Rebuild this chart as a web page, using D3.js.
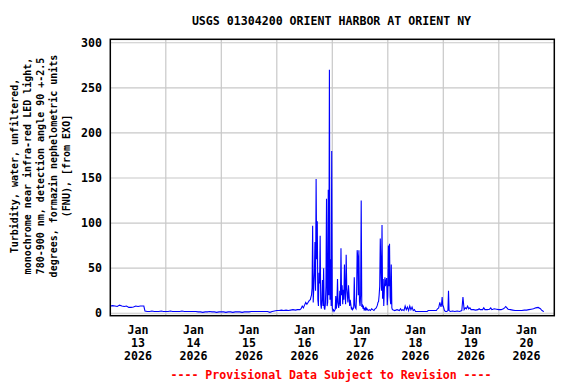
<!DOCTYPE html>
<html>
<head>
<meta charset="utf-8">
<script src="https://cdn.jsdelivr.net/npm/d3@7"></script>
<style>
  html, body { margin: 0; padding: 0; background: #fff; }
  svg { display: block; }
  text { font-family: 'DejaVu Sans Mono', monospace; font-weight: bold; fill: #000; }
</style>
</head>
<body>
<svg id="chart" width="576" height="384"></svg>
<script>
// ---- data (hour of day, turbidity FNU) ----
const titleText = "USGS 01304200 ORIENT HARBOR AT ORIENT NY";
const yLabelLines = [
  "Turbidity, water, unfiltered,",
  "monochrome near infra-red LED light,",
  "780-900 nm, detection angle 90 +-2.5",
  "degrees, formazin nephelometric units",
  "(FNU), [from EXO]"
];
const footerText = "---- Provisional Data Subject to Revision ----";
const yTicks = [0, 50, 100, 150, 200, 250, 300];
const tickDays = [13, 14, 15, 16, 17, 18, 19, 20];
const tickMonth = "Jan";
const tickYear = "2026";

const jan13 = [[0,8],[1,8.5],[2,8],[3,7.5],[4,9],[5,8],[6,7.5],[7,8],[8,6.5],[9,6.5],[10,7],[11,8],[12,7.5],[13,8],[14,8],[14.5,8],[15,2.5],[16,2],[17,2],[18,2.5],[19,2],[20,2],[21,2],[22,2.5],[23,2]];
const jan14 = [[0,2],[1,2],[2,2.5],[3,2],[4,2],[5,2],[6,2],[7,2.5],[8,2],[9,2],[10,2],[11,2],[12,2],[13,2],[14,1.5],[15,1.5],[16,1],[17,1.5],[18,1.5],[19,2],[20,1.5],[21,1.5],[22,1],[23,1.5]];
const jan15 = [[0,1.5],[1,1.5],[2,1],[3,1.5],[4,1.5],[5,1],[6,1.5],[7,1.5],[8,1.5],[9,1],[10,1.5],[11,1.5],[12,1.5],[13,2],[14,2],[15,2],[16,2],[17,2],[18,2],[19,2],[20,2],[21,1],[22,2],[23,2.5]];
const jan16 = [[0,3],[1,3],[2,3.5],[3,3],[4,3.5],[5,3],[6,3.5],[7,4],[8,3.5],[9,4],[10,4],[10.5,5],[11,8],[11.5,6],[12,9],[12.5,12],[13,10],[13.5,12],[14,14],[14.5,15],[14.75,18],[15,20],[15.25,28],[15.5,97],[15.75,12],[16,30],[16.25,45],[16.5,79],[16.75,25],[17,149],[17.25,60],[17.5,102],[17.75,15],[18,8],[18.25,45],[18.5,33],[18.75,86],[19,10],[19.25,5],[19.5,15],[19.75,37],[20,8],[20.25,50],[20.5,6],[20.75,4],[21,10],[21.25,30],[21.5,127],[21.75,8],[22,12],[22.25,137],[22.5,20],[22.75,270],[23,15],[23.25,60],[23.5,8],[23.75,180]];
const jan17 = [[0,6],[0.25,3],[0.5,4],[0.75,2],[1,3],[1.25,4],[1.5,19],[1.75,5],[2,12],[2.25,38],[2.5,12],[2.75,6],[3,11],[3.25,25],[3.5,8],[3.75,72],[4,20],[4.25,31],[4.5,10],[4.75,26],[5,15],[5.25,54],[5.5,24],[5.75,10],[6,65],[6.25,28],[6.5,20],[6.75,12],[7,31],[7.25,20],[7.5,8],[7.75,15],[8,10],[8.25,5],[8.5,6],[8.75,4],[9,5],[9.25,6],[9.5,40],[9.75,9],[10,6],[10.25,5],[10.5,20],[10.75,70],[11,63],[11.25,20],[11.5,70],[11.75,13],[12,8],[12.25,20],[12.5,125],[12.75,7],[13,10],[13.25,5],[13.5,7],[13.75,4],[14,5],[14.25,3],[14.5,7],[14.75,4],[15,5],[15.5,3],[16,4],[16.5,3],[17,5],[17.5,4],[18,3],[18.5,5],[19,6],[19.5,9],[19.75,12],[20,13],[20.25,20],[20.5,30],[20.75,83],[21,50],[21.25,25],[21.5,98],[21.75,16],[22,38],[22.25,8],[22.5,26],[22.75,40],[23,30],[23.25,36],[23.5,39],[23.75,9]];
const jan18 = [[0,20],[0.25,75],[0.5,30],[0.75,77],[1,18],[1.25,10],[1.5,54],[1.75,6],[2,4],[3,3],[4,4],[5,3],[5.5,5],[6,3],[6.5,4],[7,3],[7.5,8],[8,4],[8.5,7],[9,3],[9.5,8],[10,4],[10.5,7],[11,3],[11.5,4],[12,2],[13,2],[14,2],[15,2],[16,2],[17,2],[17.5,3],[18,3],[19,3],[20,3],[21,3],[21.5,5],[22,6],[22.5,12],[23,7],[23.25,10],[23.5,18],[23.75,8]];
const jan19 = [[0,8],[0.5,3],[1,2],[1.5,2],[2,3],[2.25,25],[2.5,3],[3,2],[4,2.5],[5,2],[6,2.5],[7,2],[8,3],[8.5,18],[9,4],[9.5,6],[10,5],[10.5,8],[11,5],[11.5,6],[12,4],[13,4],[14,3.5],[15,4],[15.5,5],[16,4],[17,4],[17.5,6],[18,4],[19,4],[20,4.5],[20.5,6],[21,4],[22,5],[23,4.5]];
const jan20 = [[0,4],[1,4],[2,5],[2.5,6],[3,7.5],[3.5,6],[4,4.5],[5,4],[6,3.5],[7,3],[8,3],[9,3],[10,3],[11,3.5],[12,3.5],[13,4],[14,4.5],[15,5],[16,6],[17,6.5],[18,5],[18.5,3.5],[19,2.5],[19.5,2]];

const dayData = [[13, jan13], [14, jan14], [15, jan15], [16, jan16], [17, jan17], [18, jan18], [19, jan19], [20, jan20]];
const series = dayData.flatMap(([day, arr]) =>
  arr.map(([h, v]) => ({ t: new Date(Date.UTC(2026, 0, day) + h * 3600e3), v })));

// ---- layout ----
const plot = { left: 110.3, right: 554.3, top: 39.3, bottom: 315.7 };
const svg = d3.select("#chart");

const x = d3.scaleUtc()
  .domain([new Date(Date.UTC(2026, 0, 13)), new Date(Date.UTC(2026, 0, 21))])
  .range([plot.left, plot.right]);
const y = d3.scaleLinear()
  .domain([-2.7, 303.8])
  .range([plot.bottom, plot.top]);

// grid
const grid = svg.append("g").attr("stroke", "#c8c8c8").attr("stroke-width", 1.2);
yTicks.forEach(t => {
  grid.append("line").attr("x1", plot.left).attr("x2", plot.right)
    .attr("y1", y(t)).attr("y2", y(t));
});
const midnights = d3.utcDay.range(new Date(Date.UTC(2026, 0, 14)), new Date(Date.UTC(2026, 0, 21)));
midnights.forEach(d => {
  grid.append("line").attr("x1", x(d)).attr("x2", x(d))
    .attr("y1", plot.top).attr("y2", plot.bottom);
});

// data line
const line = d3.line().x(d => x(d.t)).y(d => y(d.v));
svg.append("path").datum(series)
  .attr("d", line)
  .attr("fill", "none")
  .attr("stroke", "#0000ff")
  .attr("stroke-width", 1.1)
  .attr("stroke-linejoin", "miter");

// frame
svg.append("rect")
  .attr("x", plot.left).attr("y", plot.top)
  .attr("width", plot.right - plot.left).attr("height", plot.bottom - plot.top)
  .attr("fill", "none").attr("stroke", "#000").attr("stroke-width", 1.5);

// y tick labels
svg.append("g").selectAll("text").data(yTicks).join("text")
  .attr("x", 102).attr("y", d => y(d))
  .attr("dy", "0.36em")
  .attr("text-anchor", "end")
  .style("font-size", "11.6px")
  .text(d => d);

// x tick labels (centered at noon)
const xl = svg.append("g");
tickDays.forEach(day => {
  const cx = x(new Date(Date.UTC(2026, 0, day, 12)));
  const t = xl.append("text").attr("text-anchor", "middle").style("font-size", "11.6px");
  [[tickMonth, 330], [String(day), 343], [tickYear, 356]].forEach(([s, yy]) => {
    t.append("tspan").attr("x", cx).attr("y", yy).attr("dy", "0.36em").text(s);
  });
});

// title
svg.append("text")
  .attr("x", 331.5).attr("y", 21).attr("dy", "0.36em")
  .attr("text-anchor", "middle")
  .style("font-size", "11.6px")
  .text(titleText);

// y axis label
const ylab = svg.append("text")
  .attr("transform", "translate(0,166) rotate(-90)")
  .attr("text-anchor", "middle")
  .style("font-size", "10px");
const lineX = [14, 27, 40, 53, 66];
yLabelLines.forEach((s, i) => {
  ylab.append("tspan").attr("x", 0).attr("y", lineX[i]).attr("dy", "0.36em").text(s);
});

// footer
svg.append("text")
  .attr("x", 331).attr("y", 375).attr("dy", "0.36em")
  .attr("text-anchor", "middle")
  .style("font-size", "11.6px")
  .style("fill", "#ff0000")
  .text(footerText);
</script>
</body>
</html>
